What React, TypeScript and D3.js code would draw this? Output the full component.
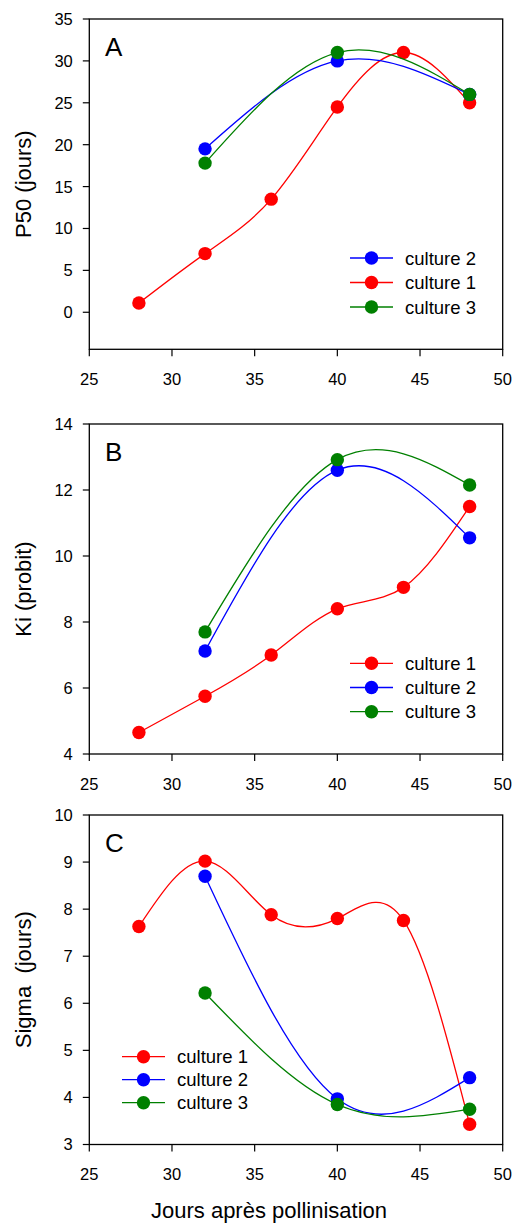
import React from "react";
import * as d3 from "d3";

const xTicks = [25, 30, 35, 40, 45, 50];
const days1 = [28, 32, 36, 40, 44, 48];
const days23 = [32, 40, 48];

// Panel A: P50 (jours)
const p50Culture1 = [1.1, 7.0, 13.5, 24.5, 31.0, 25.0];
const p50Culture2 = [19.5, 30.0, 26.0];
const p50Culture3 = [17.8, 31.0, 26.0];
const p50Ticks = [0, 5, 10, 15, 20, 25, 30, 35];

// Panel B: Ki (probit)
const kiCulture1 = [4.65, 5.75, 7.0, 8.4, 9.05, 11.5];
const kiCulture2 = [7.12, 12.6, 10.55];
const kiCulture3 = [7.7, 12.92, 12.15];
const kiTicks = [4, 6, 8, 10, 12, 14];

// Panel C: Sigma (jours)
const sigmaCulture1 = [7.63, 9.02, 7.88, 7.8, 7.76, 3.43];
const sigmaCulture2 = [8.7, 3.97, 4.42];
const sigmaCulture3 = [6.22, 3.85, 3.75];
const sigmaTicks = [3, 4, 5, 6, 7, 8, 9, 10];

const seriesNames = ["culture 1", "culture 2", "culture 3"];
const seriesColors = ["#ff0000", "#0000ff", "#008000"];

const FONT = "'Liberation Sans', Arial, sans-serif";
const X0 = 89.3;
const X1 = 502.7;

type Series = { name: string; color: string; xs: number[]; ys: number[] };
type Panel = {
  letter: string;
  title: string;
  top: number;
  bottom: number;
  yDomain: [number, number];
  yTicks: number[];
  series: Series[];
  legendOrder: number[];
  legendX: number;
  legendY: number;
  legendStep: number;
};

const mk = (i: number, xs: number[], ys: number[]): Series => ({
  name: seriesNames[i],
  color: seriesColors[i],
  xs,
  ys,
});

const panels: Panel[] = [
  {
    letter: "A",
    title: "P50 (jours)",
    top: 19,
    bottom: 349.3,
    yDomain: [-4.42, 35],
    yTicks: p50Ticks,
    series: [mk(0, days1, p50Culture1), mk(1, days23, p50Culture2), mk(2, days23, p50Culture3)],
    legendOrder: [1, 0, 2],
    legendX: 350,
    legendY: 258,
    legendStep: 24.5,
  },
  {
    letter: "B",
    title: "Ki (probit)",
    top: 424,
    bottom: 754,
    yDomain: [4, 14],
    yTicks: kiTicks,
    series: [mk(0, days1, kiCulture1), mk(1, days23, kiCulture2), mk(2, days23, kiCulture3)],
    legendOrder: [0, 1, 2],
    legendX: 350,
    legendY: 663.3,
    legendStep: 24.2,
  },
  {
    letter: "C",
    title: "Sigma  (jours)",
    top: 815,
    bottom: 1144.5,
    yDomain: [3, 10],
    yTicks: sigmaTicks,
    series: [mk(0, days1, sigmaCulture1), mk(1, days23, sigmaCulture2), mk(2, days23, sigmaCulture3)],
    legendOrder: [0, 1, 2],
    legendX: 122,
    legendY: 1056.7,
    legendStep: 23,
  },
];

const xScale = d3.scaleLinear().domain([25, 50]).range([X0, X1]);

function PanelView({ p }: { p: Panel }) {
  const y = d3.scaleLinear().domain(p.yDomain).range([p.bottom, p.top]);
  const line = d3
    .line<[number, number]>()
    .x((d) => xScale(d[0]))
    .y((d) => y(d[1]))
    .curve(d3.curveNatural);
  return (
    <g>
      {/* frame */}
      <rect
        x={X0}
        y={p.top}
        width={X1 - X0}
        height={p.bottom - p.top}
        fill="none"
        stroke="#000"
        strokeWidth={1.3}
      />
      {/* y ticks */}
      {p.yTicks.map((t) => (
        <g key={"y" + t}>
          <line x1={X0 - 6.5} x2={X0} y1={y(t)} y2={y(t)} stroke="#000" strokeWidth={1.2} />
          <text
            x={X0 - 16.5}
            y={y(t)}
            dy="0.36em"
            textAnchor="end"
            fontSize={16.5}
            fontFamily={FONT}
            fill="#000"
          >
            {t}
          </text>
        </g>
      ))}
      {/* x ticks */}
      {xTicks.map((t) => (
        <g key={"x" + t}>
          <line x1={xScale(t)} x2={xScale(t)} y1={p.bottom} y2={p.bottom + 7} stroke="#000" strokeWidth={1.2} />
          <text
            x={xScale(t)}
            y={p.bottom + 30}
            dy="0.36em"
            textAnchor="middle"
            fontSize={16.5}
            fontFamily={FONT}
            fill="#000"
          >
            {t}
          </text>
        </g>
      ))}
      {/* y title */}
      <text
        transform={`translate(31,${(p.top + p.bottom) / 2}) rotate(-90)`}
        textAnchor="middle"
        fontSize={22}
        fontFamily={FONT}
        fill="#000"
        style={{ whiteSpace: "pre" }}
      >
        {p.title}
      </text>
      {/* panel letter */}
      <text x={105} y={p.top + 37} fontSize={26} fontFamily={FONT} fill="#000">
        {p.letter}
      </text>
      {/* series */}
      {p.series.map((s) => {
        const pts = s.xs.map((xv, i) => [xv, s.ys[i]] as [number, number]);
        return (
          <g key={s.name}>
            <path d={line(pts) || ""} fill="none" stroke={s.color} strokeWidth={1.3} />
            {pts.map((d, i) => (
              <circle key={i} cx={xScale(d[0])} cy={y(d[1])} r={6.7} fill={s.color} />
            ))}
          </g>
        );
      })}
      {/* legend */}
      {p.legendOrder.map((si, k) => {
        const s = p.series[si];
        const ly = p.legendY + k * p.legendStep;
        return (
          <g key={"lg" + si}>
            <line x1={p.legendX} x2={p.legendX + 43} y1={ly} y2={ly} stroke={s.color} strokeWidth={1.3} />
            <circle cx={p.legendX + 21.5} cy={ly} r={6.7} fill={s.color} />
            <text
              x={p.legendX + 55}
              y={ly}
              dy="0.36em"
              fontSize={18.5}
              fontFamily={FONT}
              fill="#000"
            >
              {s.name}
            </text>
          </g>
        );
      })}
    </g>
  );
}

export default function App() {
  return (
    <svg
      width={515}
      height={1224}
      style={{ position: "absolute", left: 0, top: 0, background: "#fff" }}
    >
      <rect width={515} height={1224} fill="#fff" />
      {panels.map((p) => (
        <PanelView key={p.letter} p={p} />
      ))}
      <text x={269} y={1218} textAnchor="middle" fontSize={22} fontFamily={FONT} fill="#000">
        Jours après pollinisation
      </text>
    </svg>
  );
}
